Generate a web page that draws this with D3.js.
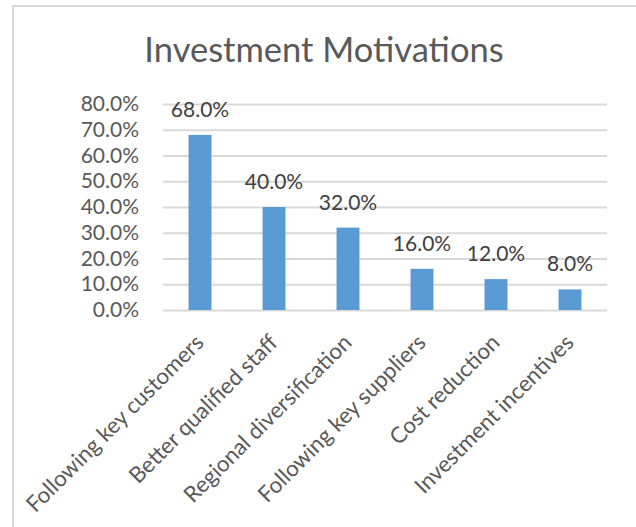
<!DOCTYPE html>
<html>
<head>
<meta charset="utf-8">
<script src="https://cdn.jsdelivr.net/npm/d3@7"></script>
<style>
  html, body { margin: 0; padding: 0; background: #ffffff; }
  svg { display: block; font-family: Lato, "Open Sans", sans-serif; }
</style>
</head>
<body>
<svg id="chart" width="636" height="527"></svg>
<script>
// Chart data
const title = "Investment Motivations";
const categories = [
  "Following key customers",
  "Better qualified staff",
  "Regional diversification",
  "Following key suppliers",
  "Cost reduction",
  "Investment incentives"
];
const values = [0.68, 0.40, 0.32, 0.16, 0.12, 0.08];
const yTicks = [0, 0.1, 0.2, 0.3, 0.4, 0.5, 0.6, 0.7, 0.8];

const svg = d3.select("#chart");
const W = 636, H = 527;

// Outer chart frame (runs past the right and bottom edges)
svg.append("rect")
  .attr("x", 13).attr("y", 6)
  .attr("width", W + 20).attr("height", H + 20)
  .attr("fill", "#ffffff")
  .attr("stroke", "#d9d9d9")
  .attr("stroke-width", 2);

const plot = { left: 163, right: 607, top: 104, bottom: 310 };

const x = d3.scaleBand()
  .domain(categories)
  .range([plot.left, plot.right])
  .paddingInner(0.69)
  .paddingOuter(0.345);

const y = d3.scaleLinear()
  .domain([0, 0.8])
  .range([plot.bottom, plot.top]);

const pct = d3.format(".1%");

// Title
svg.append("text")
  .attr("x", 324).attr("y", 62)
  .attr("text-anchor", "middle")
  .attr("fill", "#595959")
  .attr("font-size", 34.5)
  .text(title);

// Horizontal gridlines with tick labels on the left
const yAxis = d3.axisLeft(y)
  .tickValues(yTicks)
  .tickFormat(pct)
  .tickSize(-(plot.right - plot.left))
  .tickPadding(24);

const gy = svg.append("g")
  .attr("transform", `translate(${plot.left},0)`)
  .call(yAxis);
gy.select(".domain").remove();
gy.selectAll(".tick line")
  .attr("stroke", "#d9d9d9")
  .attr("stroke-width", 2);
gy.selectAll(".tick text")
  .attr("fill", "#595959")
  .attr("font-size", 21)
  .attr("font-family", "Lato, sans-serif");

// Bars
svg.append("g").selectAll("rect")
  .data(values)
  .join("rect")
  .attr("x", (d, i) => x(categories[i]))
  .attr("y", d => y(d))
  .attr("width", x.bandwidth())
  .attr("height", d => y(0) - y(d))
  .attr("fill", "#5b9bd5");

// Value labels above bars
svg.append("g").selectAll("text")
  .data(values)
  .join("text")
  .attr("x", (d, i) => x(categories[i]) + x.bandwidth() / 2)
  .attr("y", d => y(d) - 18)
  .attr("text-anchor", "middle")
  .attr("fill", "#404040")
  .attr("font-size", 21)
  .text(d => pct(d));

// Rotated category labels
const xAxis = d3.axisBottom(x).tickSize(0).tickPadding(0);
const gx = svg.append("g")
  .attr("transform", `translate(0,${plot.bottom})`)
  .call(xAxis);
gx.select(".domain").remove();
gx.selectAll(".tick text")
  .attr("fill", "#595959")
  .attr("font-size", 22.3)
  .attr("font-family", "Lato, sans-serif")
  .attr("text-anchor", "end")
  .attr("dy", null)
  .attr("y", null)
  .attr("transform", "translate(5,34) rotate(-45)");
</script>
</body>
</html>
